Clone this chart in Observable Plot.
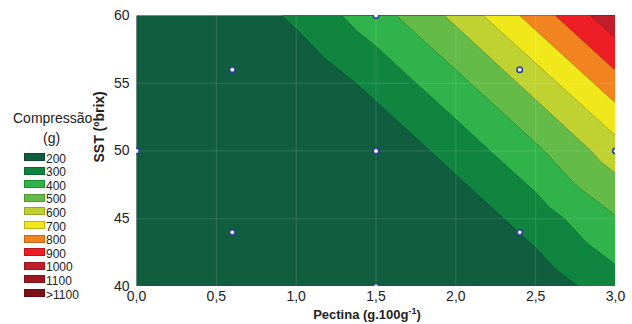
<!DOCTYPE html>
<html><head><meta charset="utf-8">
<script src="https://cdn.jsdelivr.net/npm/d3@7"></script>
<script src="https://cdn.jsdelivr.net/npm/@observablehq/plot@0.6"></script>
<style>
body{margin:0;background:#fff;}
#wrap{position:relative;width:632px;height:324px;overflow:hidden;font-family:"Liberation Sans",Arial,sans-serif;color:#222;}
#chart{position:absolute;left:80px;top:0;}
.lt{position:absolute;font-size:14px;line-height:16px;white-space:nowrap;}
.sw{position:absolute;left:24px;width:21px;height:8px;box-sizing:border-box;border:1px solid rgba(0,0,0,0.22);}
.lb{position:absolute;left:46px;font-size:12px;line-height:normal;white-space:nowrap;}
#xlabel{position:absolute;left:0;width:734px;top:307px;text-align:center;font-weight:bold;font-size:13px;line-height:15px;white-space:nowrap;}
#xlabel sup{font-size:9px;vertical-align:5px;line-height:0;}
</style></head>
<body><div id="wrap"><div id="legend"></div><div id="chart"></div><div id="xlabel">Pectina (g.100g<sup>-1</sup>)</div></div>
<script>
// Grid of the response surface (Compressão, g)
const pectinaGrid = [0, 0.5, 1, 1.5, 2, 2.5, 3];
const sstGrid = [40, 45, 50, 55, 60];
const comp40 = [-465, -345, -225, -105, 15, 135, 256];
const comp45 = [-353, -233, -113, 7, 127, 248, 392];
const comp50 = [-242, -122, -2, 118, 239, 381, 552];
const comp55 = [-130, -10, 110, 230, 369, 538, 761];
const comp60 = [-18, 102, 222, 358, 524, 745, 970];
const thresholds = [-1000, 200, 300, 400, 500, 600, 700, 800, 900];
// Design points
const pointX = [0, 0.6, 0.6, 1.5, 1.5, 1.5, 2.4, 2.4, 3];
const pointY = [50, 44, 56, 40, 50, 60, 44, 56, 50];
// Axes
const xTicks = [0, 0.5, 1, 1.5, 2, 2.5, 3];
const yTicks = [40, 45, 50, 55, 60];
const gridXs = [0.5, 1, 1.5, 2, 2.5];
const gridYs = [45, 50, 55];
// Legend
const legendLabels = ["200", "300", "400", "500", "600", "700", "800", "900", "1000", "1100", ">1100"];
const legendColors = ["#115d3f", "#108540", "#2fb34a", "#64bb47", "#c0d232", "#f1e81c", "#f2841f", "#ee1e26", "#be1f2a", "#9e1620", "#7e1016"];

const compRows = [comp40, comp45, comp50, comp55, comp60];
const grid = [];
sstGrid.forEach((y, i) => pectinaGrid.forEach((x, j) => grid.push({x, y, v: compRows[i][j]})));
const points = pointX.map((x, i) => ({x, y: pointY[i]}));

const font = "'Liberation Sans', Arial, sans-serif";
const chart = Plot.plot({
  width: 552, height: 324,
  marginLeft: 56, marginRight: 17, marginTop: 15, marginBottom: 38,
  style: {fontFamily: font, fontSize: "14px", color: "#222", background: "transparent"},
  x: {domain: [0, 3], ticks: xTicks, tickFormat: d => d.toFixed(1).replace(".", ","), tickSize: 0, tickPadding: 5, label: null},
  y: {domain: [40, 60], ticks: yTicks, tickSize: 0, tickPadding: 7, label: null},
  color: {type: "ordinal", domain: thresholds, range: legendColors.slice(0, thresholds.length)},
  marks: [
    Plot.contour(grid, {x: "x", y: "y", fill: "v", thresholds, interpolate: "barycentric", pixelSize: 1,
      stroke: "#000", strokeOpacity: 0.28, strokeWidth: 0.7, clip: true}),
    Plot.ruleX(gridXs, {stroke: "#ffffff", strokeOpacity: 0.13}),
    Plot.ruleY(gridYs, {stroke: "#ffffff", strokeOpacity: 0.13}),
    Plot.dot(points, {x: "x", y: "y", r: 2.7, fill: "white", stroke: "#2a3f9c", strokeWidth: 1.6, clip: true}),
    Plot.text(["SST (ºbrix)"], {frameAnchor: "left", dx: -37, dy: 11.5, rotate: -90, fontWeight: "bold", fontSize: 14, fontFamily: font})
  ]
});
document.getElementById("chart").appendChild(chart);

const lg = document.getElementById("legend");
const t1 = document.createElement("div"); t1.className = "lt"; t1.style.left = "13px"; t1.style.top = "110px"; t1.textContent = "Compressão"; lg.appendChild(t1);
const t2 = document.createElement("div"); t2.className = "lt"; t2.style.left = "43px"; t2.style.top = "130px"; t2.textContent = "(g)"; lg.appendChild(t2);
legendLabels.forEach((lab, i) => {
  const top = 153 + i * 13.6;
  const s = document.createElement("div"); s.className = "sw"; s.style.top = top + "px"; s.style.background = legendColors[i]; lg.appendChild(s);
  const l = document.createElement("div"); l.className = "lb"; l.style.top = (top - 1.5) + "px"; l.textContent = lab; lg.appendChild(l);
});
</script>
</body></html>
